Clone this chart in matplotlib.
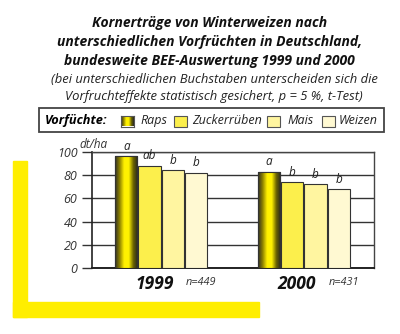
import numpy as np
import matplotlib.pyplot as plt
from matplotlib.patches import Rectangle
from matplotlib.colors import LinearSegmentedColormap

# Data
years = ["1999", "2000"]
sample_sizes = ["n=449", "n=431"]
crops = ["Raps", "Zuckerrüben", "Mais", "Weizen"]
yields_1999 = [96, 88, 84, 82]
yields_2000 = [83, 74, 72, 68]
letters_1999 = ["a", "ab", "b", "b"]
letters_2000 = ["a", "b", "b", "b"]
yticks = [0, 20, 40, 60, 80, 100]

# Styles
FONT = "Open Sans"
colors = ["#f5e400", "#fcef4c", "#fff5a0", "#fff9d2"]
raps_cmap = LinearSegmentedColormap.from_list(
    "raps", ["#2e2e26", "#8c8000", "#fff000", "#fff200", "#6b6400", "#262620"]
)
gradient = np.linspace(0, 1, 256).reshape(1, -1)

fig = plt.figure(figsize=(4.0, 3.34), dpi=100)

# Yellow L-shaped decoration
fig.patches.append(Rectangle((12.7 / 400, 1 - 316.7 / 334), 14 / 400, 156 / 334,
                             transform=fig.transFigure, color="#ffee00", zorder=0))
fig.patches.append(Rectangle((12.7 / 400, 1 - 316.7 / 334), 246.6 / 400, 14.4 / 334,
                             transform=fig.transFigure, color="#ffee00", zorder=0))

# Title and subtitle
title_lines = ["Kornerträge von Winterweizen nach",
               "unterschiedlichen Vorfrüchten in Deutschland,",
               "bundesweite BEE-Auswertung 1999 und 2000"]
for i, line in enumerate(title_lines):
    fig.text(0.524, 1 - (22.5 + 19.5 * i) / 334, line, ha="center", va="center",
             fontsize=10, fontweight="bold", fontstyle="italic", family=FONT,
             color="#111111")
sub_lines = ["(bei unterschiedlichen Buchstaben unterscheiden sich die",
             "Vorfruchteffekte statistisch gesichert, p = 5 %, t-Test)"]
for i, line in enumerate(sub_lines):
    fig.text(0.535, 1 - (79.5 + 17 * i) / 334, line, ha="center", va="center",
             fontsize=9.4, fontstyle="italic", family=FONT, color="#222222")

# Legend box
fig.patches.append(Rectangle((39.3 / 400, 1 - 131.7 / 334), 344.7 / 400, 23.4 / 334,
                             transform=fig.transFigure, facecolor="white",
                             edgecolor="#444444", lw=1.3, zorder=1))
ly = 1 - 120.5 / 334
fig.text(45 / 400, ly, "Vorfüchte:", ha="left", va="center", fontsize=9.2,
         fontweight="bold", fontstyle="italic", family=FONT, zorder=3)
swatch_x = [121, 174, 267, 322]
text_x = [140, 192, 287, 339]
for i, crop in enumerate(crops):
    if i == 0:
        sax = fig.add_axes([swatch_x[i] / 400, 1 - 126.5 / 334, 13 / 400, 10.5 / 334])
        sax.set_zorder(3)
        sax.imshow(gradient, aspect="auto", cmap=raps_cmap)
        sax.set_xticks([])
        sax.set_yticks([])
        for sp in sax.spines.values():
            sp.set_color("#555555")
            sp.set_linewidth(0.8)
    else:
        fig.patches.append(Rectangle((swatch_x[i] / 400, 1 - 126.5 / 334), 13 / 400,
                                     10.5 / 334, transform=fig.transFigure,
                                     facecolor=colors[i], edgecolor="#555555",
                                     lw=0.8, zorder=3))
    fig.text(text_x[i] / 400, ly, crop, ha="left", va="center", fontsize=9,
             fontstyle="italic", family=FONT, color="#222222", zorder=3)

# Chart area
ax = fig.add_axes([92 / 400, 65.7 / 334, 282 / 400, 116.6 / 334])
ax.set_xlim(0, 12.1)
ax.set_ylim(0, 100)

group_start = [1.47, 7.59]
all_yields = [yields_1999, yields_2000]
all_letters = [letters_1999, letters_2000]
for g in range(2):
    xs = group_start[g] + np.arange(len(crops))
    bars = ax.bar(xs, all_yields[g], width=0.96, color=colors,
                  edgecolor="#333333", linewidth=0.8, zorder=3)
    # gradient fill for the Raps bar
    b = bars[0]
    im = ax.imshow(gradient, aspect="auto", cmap=raps_cmap, zorder=3.5,
                   extent=[b.get_x(), b.get_x() + b.get_width(), 0, b.get_height()])
    im.set_clip_path(b)
    ax.bar(xs[0], all_yields[g][0], width=0.96, fill=False,
           edgecolor="#333333", linewidth=0.8, zorder=4)
    for x, y, lab in zip(xs, all_yields[g], all_letters[g]):
        ax.text(x, y + 3, lab, ha="center", va="bottom", fontsize=8.5,
                fontstyle="italic", family=FONT, color="#222222")
    mid = xs[1] + 0.5
    ax.text(mid - 0.3, -6, years[g], ha="center", va="top",
            fontsize=12.5, fontweight="bold", fontstyle="italic", family=FONT,
            color="#111111")
    ax.text(mid + 1.06, -7.5, sample_sizes[g], ha="left", va="top",
            fontsize=7.8, fontstyle="italic", family=FONT, color="#333333")

ax.set_xlim(0, 12.1)
ax.set_ylim(0, 100)
ax.set_yticks(yticks)
ax.set_yticklabels([str(t) for t in yticks], fontstyle="italic", family=FONT,
                   fontsize=9, color="#333333")
ax.set_xticks([])
ax.tick_params(axis="y", length=7.5, width=1, color="#333333", pad=3)
ax.grid(axis="y", color="#333333", linewidth=1, zorder=1)
ax.set_axisbelow(True)
for side in ["top", "right"]:
    ax.spines[side].set_color("#444444")
    ax.spines[side].set_linewidth(1)
ax.spines["left"].set_color("#222222")
ax.spines["left"].set_linewidth(1.2)
ax.spines["bottom"].set_color("#222222")
ax.spines["bottom"].set_linewidth(1.4)
ax.text(-0.55, 101, "dt/ha", ha="left", va="bottom", fontsize=8.5,
        fontstyle="italic", family=FONT, color="#333333")

fig.savefig("out.png", dpi=100)
